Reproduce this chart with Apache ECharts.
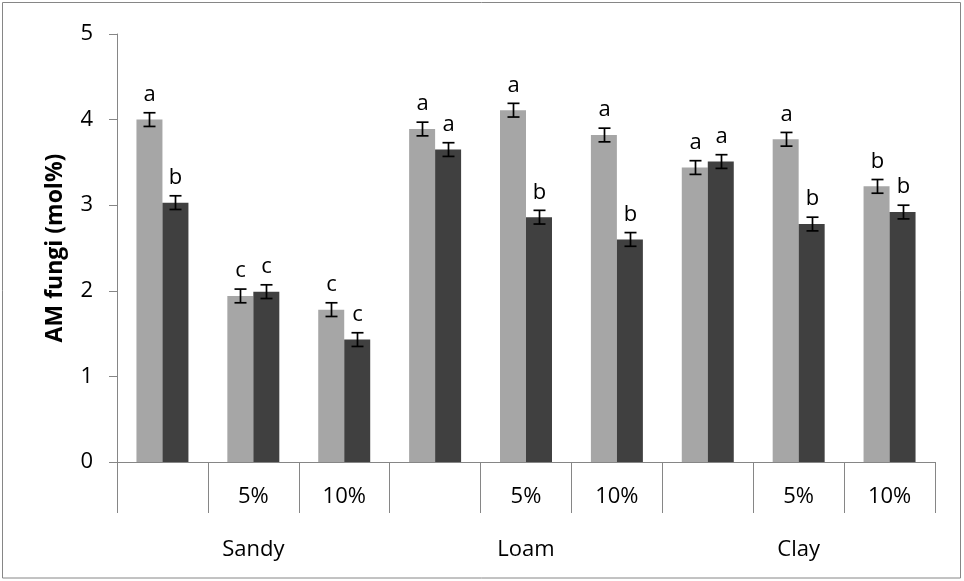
<!DOCTYPE html>
<html><head><meta charset="utf-8">
<script src="https://cdn.jsdelivr.net/npm/echarts@6/dist/echarts.min.js"></script>
<style>html,body{margin:0;padding:0;background:#fff}#c{width:964px;height:581px}</style>
</head><body><div id="c"></div>
<script>
// ---- data ----
const categories = ['', '5%', '10%', '', '5%', '10%', '', '5%', '10%'];
const soils = ['Sandy', 'Loam', 'Clay'];
const seriesLight = [4.00, 1.94, 1.78, 3.89, 4.11, 3.82, 3.44, 3.77, 3.22];
const seriesDark  = [3.03, 1.99, 1.43, 3.65, 2.86, 2.60, 3.51, 2.78, 2.92];
const errLight = [0.08, 0.08, 0.08, 0.08, 0.08, 0.08, 0.08, 0.08, 0.08];
const errDark  = [0.08, 0.08, 0.08, 0.08, 0.08, 0.08, 0.08, 0.08, 0.08];
const lettersLight = ['a', 'c', 'c', 'a', 'a', 'a', 'a', 'a', 'b'];
const lettersDark  = ['b', 'c', 'c', 'a', 'b', 'b', 'a', 'b', 'b'];
const yTicks = [0, 1, 2, 3, 4, 5];
const yTitle = 'AM fungi (mol%)';

const FONT = 'Open Sans';
const FS = 22;
const BAR_FRAC = 0.286;

const chart = echarts.init(document.getElementById('c'), null, {renderer: 'canvas'});

function errSeries(vals, errs, labs, sign) {
  return {
    type: 'custom',
    xAxisIndex: 0,
    z: 5,
    data: vals.map((v, i) => [i, v, errs[i]]),
    renderItem(params, api) {
      const i = api.value(0), v = api.value(1), e = api.value(2);
      const band = api.size([1, 0])[0];
      const bw = band * BAR_FRAC;
      const x = Math.round(api.coord([i, v])[0] + sign * bw / 2) + 0.5;
      const yTop = api.coord([i, v + e])[1];
      const yBot = api.coord([i, v - e])[1];
      const cap = 6;
      const st = {stroke: '#000', lineWidth: 1.7};
      return {
        type: 'group',
        children: [
          {type: 'line', shape: {x1: x, y1: yTop, x2: x, y2: yBot}, style: st},
          {type: 'line', shape: {x1: x - cap, y1: yTop, x2: x + cap, y2: yTop}, style: st},
          {type: 'line', shape: {x1: x - cap, y1: yBot, x2: x + cap, y2: yBot}, style: st},
          {type: 'text', style: {text: labs[params.dataIndex], x: x, y: yTop - 7,
            align: 'center', verticalAlign: 'bottom',
            fontFamily: FONT, fontSize: FS, fill: '#000'}}
        ]
      };
    }
  };
}

const option = {
  animation: false,
  backgroundColor: '#fff',
  graphic: [{
    type: 'rect', shape: {x: 2.5, y: 2.5, width: 958, height: 575.5},
    style: {fill: 'none', stroke: '#868686', lineWidth: 1}, silent: true, z: -1
  }],
  grid: {left: 117, right: 29, top: 34, bottom: 119, containLabel: false},
  xAxis: [{
    type: 'category',
    data: categories,
    axisLine: {show: true, lineStyle: {color: '#868686', width: 1}},
    axisTick: {show: true, interval: 0, length: 51, alignWithLabel: false, lineStyle: {color: '#868686'}},
    axisLabel: {interval: 0, margin: 24, fontFamily: FONT, fontSize: FS, color: '#000'},
    splitLine: {show: false}
  }, {
    type: 'category',
    position: 'bottom',
    data: soils,
    axisLine: {show: false},
    axisTick: {show: false},
    axisLabel: {interval: 0, margin: 77, fontFamily: FONT, fontSize: FS, color: '#000'},
    splitLine: {show: false}
  }],
  yAxis: {
    type: 'value',
    min: yTicks[0], max: yTicks[yTicks.length - 1], interval: 1,
    name: yTitle,
    nameLocation: 'middle',
    nameGap: 50,
    nameTextStyle: {fontFamily: FONT, fontSize: 23, fontWeight: 'bold', color: '#000'},
    axisLine: {show: true, lineStyle: {color: '#868686', width: 1}},
    axisTick: {show: true, length: 8, lineStyle: {color: '#868686'}},
    axisLabel: {margin: 24, fontFamily: FONT, fontSize: FS, color: '#000'},
    splitLine: {show: false}
  },
  series: [
    {type: 'bar', data: seriesLight, barWidth: (BAR_FRAC * 100) + '%', barGap: '0%',
      itemStyle: {color: '#A6A6A6'}},
    {type: 'bar', data: seriesDark, barWidth: (BAR_FRAC * 100) + '%', barGap: '0%',
      itemStyle: {color: '#404040'}},
    errSeries(seriesLight, errLight, lettersLight, -1),
    errSeries(seriesDark, errDark, lettersDark, 1)
  ]
};
chart.setOption(option);
</script>
</body></html>
